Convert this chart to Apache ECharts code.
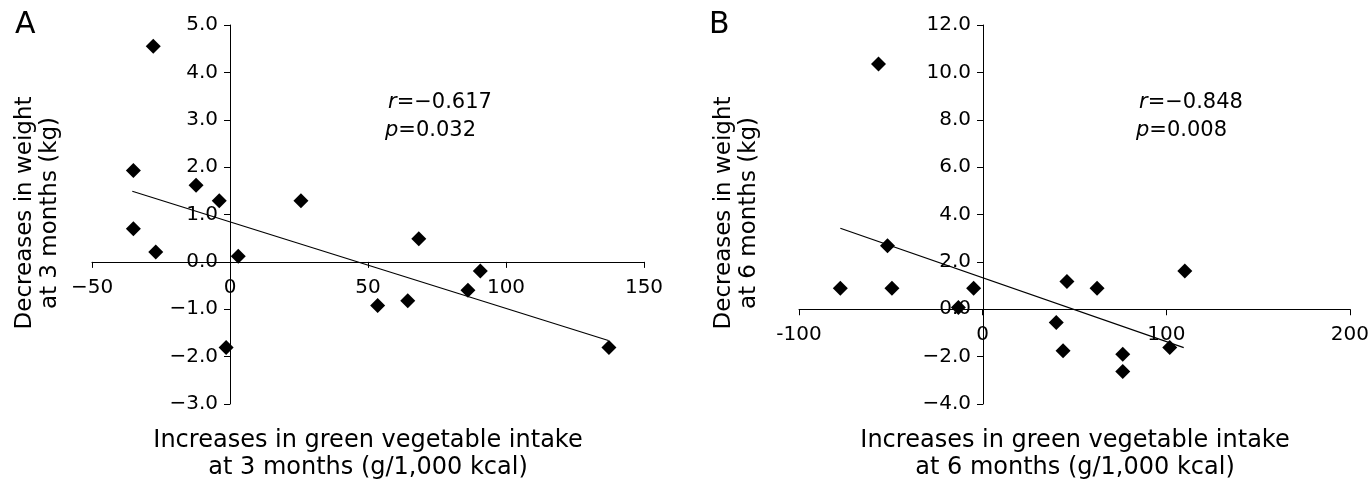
<!DOCTYPE html>
<html>
<head>
<meta charset="utf-8">
<title>Green vegetable intake vs weight</title>
<script src="https://cdn.jsdelivr.net/npm/echarts@6/dist/echarts.min.js"></script>
<style>
  html, body { margin: 0; padding: 0; background: #fff; }
  #chart { width: 1372px; height: 481px; }
</style>
</head>
<body>
<div id="chart"></div>
<script>
// panel A - 3 months
const intakeA = [-27.8, -35.0, -35.0, -26.9, -12.3, -3.9, -1.4, 3.0, 25.7, 53.5, 64.4, 68.4, 86.2, 90.7, 137.3];
const weightA = [4.55, 1.93, 0.70, 0.21, 1.62, 1.29, -1.81, 0.12, 1.29, -0.92, -0.82, 0.49, -0.60, -0.19, -1.81];
const trendA = [[-35.4, 1.49], [137.1, -1.66]];
const statsA = ['−0.617', '0.032'];

// panel B - 6 months
const intakeB = [-56.7, -77.5, -51.8, -49.4, -13.2, -4.9, 40.1, 43.8, 45.9, 62.3, 76.3, 76.3, 101.9, 110.1];
const weightB = [10.35, 0.89, 2.68, 0.89, 0.07, 0.89, -0.56, -1.75, 1.17, 0.89, -1.90, -2.63, -1.62, 1.62];
const trendB = [[-77.5, 3.42], [109.5, -1.62]];
const statsB = ['−0.848', '0.008'];

// axis ranges
const xRangeA = { min: -50, max: 150, interval: 50 };
const yRangeA = { min: -3, max: 5, interval: 1 };
const xRangeB = { min: -100, max: 200, interval: 100 };
const yRangeB = { min: -4, max: 12, interval: 2 };

const FONT = 'DejaVu Sans';
const GRID_W = 552;
const GRID_H = 379;

const pairs = (xs, ys) => xs.map((x, i) => [x, ys[i]]);
const minus = s => String(s).replace('-', '−');
// where zero sits inside a range, as a share of the axis length
const zeroShare = r => (0 - r.min) / (r.max - r.min);

const baseAxis = {
  type: 'value',
  splitLine: { show: false },
  axisLine: { onZero: false, lineStyle: { color: '#000', width: 1 } },
  axisTick: { show: true, length: 6, lineStyle: { color: '#000' } },
  axisLabel: { color: '#000', fontSize: 20, fontFamily: FONT }
};

// axes cross at zero: shift each axis line (and its labels) in from the grid edge
const xAxis = (idx, range, yRange, fmt) => ({
  ...baseAxis,
  gridIndex: idx,
  ...range,
  offset: -zeroShare(yRange) * GRID_H,
  axisLabel: { ...baseAxis.axisLabel, margin: 16, formatter: fmt }
});
const yAxis = (idx, range, xRange) => ({
  ...baseAxis,
  gridIndex: idx,
  ...range,
  offset: -zeroShare(xRange) * GRID_W,
  axisLabel: { ...baseAxis.axisLabel, margin: 12, formatter: v => minus(v.toFixed(1)) }
});

const scatter = (idx, data) => ({
  type: 'scatter',
  xAxisIndex: idx,
  yAxisIndex: idx,
  data: data,
  symbol: 'diamond',
  symbolSize: 15,
  itemStyle: { color: '#000', opacity: 1 },
  z: 3
});
const trend = (idx, data) => ({
  type: 'line',
  xAxisIndex: idx,
  yAxisIndex: idx,
  data: data,
  showSymbol: false,
  lineStyle: { color: '#000', width: 1.2 },
  z: 2
});

const statRich = {
  i: { fontSize: 21, fontFamily: FONT, fontStyle: 'italic', fontWeight: 'normal', color: '#000' },
  n: { fontSize: 21, fontFamily: FONT, fontWeight: 'normal', color: '#000' }
};
const stat = (left, vals) => [
  { text: '{i|r}{n|=' + vals[0] + '}', left: left + 3, top: 92, padding: 0, textStyle: { fontWeight: 'normal', rich: statRich } },
  { text: '{i|p}{n|=' + vals[1] + '}', left: left, top: 120, padding: 0, textStyle: { fontWeight: 'normal', rich: statRich } }
];

const axisTitle = (cx, lines) => lines.map((t, i) => ({
  type: 'text',
  x: cx,
  y: 441 + i * 27,
  style: { text: t, font: '24px "' + FONT + '"', fill: '#000', align: 'center', verticalAlign: 'middle' }
}));
const yTitle = (cx, lines) => lines.map((t, i) => ({
  type: 'text',
  x: cx + i * 25,
  y: 213,
  rotation: Math.PI / 2,
  style: { text: t, font: '23px "' + FONT + '"', fill: '#000', align: 'center', verticalAlign: 'middle' }
}));

const chart = echarts.init(document.getElementById('chart'));
chart.setOption({
  backgroundColor: '#fff',
  animation: false,
  title: [
    { text: 'A', left: 15, top: 10, padding: 0, textStyle: { fontSize: 30, fontWeight: 'normal', fontFamily: FONT, color: '#000' } },
    { text: 'B', left: 709, top: 10, padding: 0, textStyle: { fontSize: 30, fontWeight: 'normal', fontFamily: FONT, color: '#000' } },
    ...stat(385, statsA),
    ...stat(1136, statsB)
  ],
  grid: [
    { left: 92, top: 25, width: GRID_W, height: GRID_H },
    { left: 799, top: 25, width: GRID_W, height: GRID_H }
  ],
  xAxis: [
    xAxis(0, xRangeA, yRangeA, v => minus(v)),
    xAxis(1, xRangeB, yRangeB, v => String(v))
  ],
  yAxis: [
    yAxis(0, yRangeA, xRangeA),
    yAxis(1, yRangeB, xRangeB)
  ],
  graphic: [
    ...yTitle(25, ['Decreases in weight', 'at 3 months (kg)']),
    ...yTitle(724, ['Decreases in weight', 'at 6 months (kg)']),
    ...axisTitle(368, ['Increases in green vegetable intake', 'at 3 months (g/1,000 kcal)']),
    ...axisTitle(1075, ['Increases in green vegetable intake', 'at 6 months (g/1,000 kcal)'])
  ],
  series: [
    trend(0, trendA),
    scatter(0, pairs(intakeA, weightA)),
    trend(1, trendB),
    scatter(1, pairs(intakeB, weightB))
  ]
});
window.addEventListener('resize', () => chart.resize());
</script>
</body>
</html>
